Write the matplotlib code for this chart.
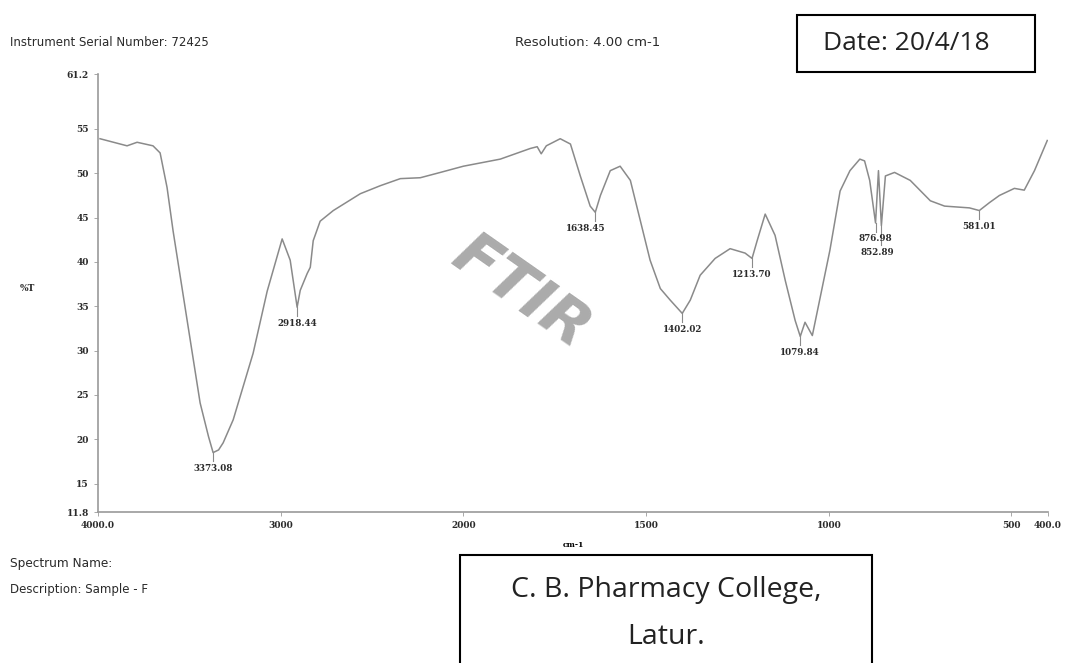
import numpy as np
import matplotlib.pyplot as plt
from matplotlib.patches import Rectangle

# spectrum (wavenumber cm-1, %T)
wavenumber = [3989, 3841, 3786, 3699, 3660, 3622, 3589, 3512, 3441, 3395,
              3370, 3340, 3315, 3260, 3151, 3074, 2992, 2948, 2910, 2893,
              2855, 2838, 2822, 2784, 2712, 2564, 2455, 2345, 2236, 2126,
              2000, 1899, 1817, 1798, 1787, 1773, 1735, 1707, 1680, 1653,
              1639, 1625, 1598, 1571, 1543, 1516, 1489, 1461, 1434, 1401,
              1379, 1352, 1311, 1270, 1229, 1210, 1196, 1174, 1147, 1119,
              1092, 1078, 1065, 1045, 1025, 997, 969, 942, 915, 902,
              888, 872, 864, 856, 845, 820, 777, 722, 683, 615,
              588, 560, 533, 492, 465, 437, 402]
transmittance = [53.9, 53.1, 53.5, 53.1, 52.3, 48.4, 43.5, 33.4, 24.1, 20.3,
                 18.5, 18.8, 19.6, 22.2, 29.7, 36.7, 42.6, 40.2, 34.9, 36.8,
                 38.7, 39.4, 42.4, 44.6, 45.8, 47.7, 48.6, 49.4, 49.5, 50.1,
                 50.8, 51.6, 52.8, 53.0, 52.2, 53.1, 53.9, 53.3, 49.7, 46.3,
                 45.6, 47.5, 50.3, 50.8, 49.2, 44.7, 40.2, 37.0, 35.7, 34.2,
                 35.7, 38.5, 40.4, 41.5, 41.0, 40.4, 42.4, 45.4, 43.0, 37.9,
                 33.4, 31.6, 33.2, 31.7, 35.7, 41.3, 48.0, 50.3, 51.6, 51.4,
                 49.2, 44.4, 50.3, 44.1, 49.7, 50.1, 49.2, 46.9, 46.3, 46.1,
                 45.8, 46.7, 47.5, 48.3, 48.1, 50.3, 53.7]

peak_wn = [3370, 2910, 1639, 1401, 1210, 1078, 872, 856, 588]
peak_labels = ["3373.08", "2918.44", "1638.45", "1402.02", "1213.70",
               "1079.84", "876.98", "852.89", "581.01"]
peak_dx = [0, 0, -25, 0, 0, 0, 0, -12, 0]
peak_extra = [0, 0, 0, 0, 0, 0, 0, 1.2, 0]

y_ticks = [11.8, 15, 20, 25, 30, 35, 40, 45, 50, 55, 61.2]
y_ticklabels = ["11.8", "15", "20", "25", "30", "35", "40", "45", "50", "55", "61.2"]
x_ticks = [4000, 3000, 2000, 1500, 1000, 500, 400]
x_ticklabels = ["4000.0", "3000", "2000", "1500", "1000", "500", "400.0"]


# instrument axis: scale doubles below 2000 cm-1
def fwd(x):
    x = np.asarray(x, dtype=float)
    return np.where(x >= 2000, x, 2 * x - 2000)


def inv(x):
    x = np.asarray(x, dtype=float)
    return np.where(x >= 2000, x, (x + 2000) / 2)


fig = plt.figure(figsize=(10.65, 6.63), dpi=100)
ax = fig.add_axes([98 / 1065, 151 / 663, 950 / 1065, 438 / 663])
ax.set_xscale('function', functions=(fwd, inv))
ax.set_xlim(4000, 400)
ax.set_ylim(11.8, 61.2)

gray = '#8a8a8a'
dark = '#2a2a2a'
ax.plot(wavenumber, transmittance, color=gray, lw=1.1)

wn_inc = np.array(wavenumber[::-1])
t_inc = np.array(transmittance[::-1])
for w, lab, dx, ex in zip(peak_wn, peak_labels, peak_dx, peak_extra):
    t = np.interp(w, wn_inc, t_inc)
    ax.plot([w, w], [t, t - 1.0 - ex], color=gray, lw=0.8)
    ax.text(w - dx, t - 1.3 - ex, lab, fontsize=6.3, ha='center', va='top',
            color=dark, family='DejaVu Serif', fontweight='bold')

for s in ['top', 'right']:
    ax.spines[s].set_visible(False)
for s in ['left', 'bottom']:
    ax.spines[s].set_color('#9a9a9a')
    ax.spines[s].set_linewidth(1.2)

ax.set_yticks(y_ticks)
ax.set_yticklabels(y_ticklabels, fontsize=6.5, family='DejaVu Serif', color=dark,
                   fontweight='bold')
ax.set_xticks(x_ticks)
ax.set_xticklabels(x_ticklabels, fontsize=6.5, family='DejaVu Serif', color=dark,
                   fontweight='bold')
ax.xaxis.set_minor_locator(plt.NullLocator())
ax.tick_params(length=3, width=0.6, color='#9a9a9a')

ax.set_xlabel("cm-1", fontsize=5.5, family='DejaVu Serif', labelpad=8, fontweight='bold')
ax.set_ylabel("%T", fontsize=6.5, family='DejaVu Serif', rotation=0, labelpad=28,
              fontweight='bold', color=dark)

ax.text(0.445, 0.5, "FTIR", transform=ax.transAxes, fontsize=44, rotation=-35,
        color='#ababab', fontweight='bold', fontstyle='italic', ha='center', va='center')

fig.text(10 / 1065, 1 - 42 / 663, "Instrument Serial Number: 72425", fontsize=8.5,
         va='center', color=dark)
fig.text(515 / 1065, 1 - 42 / 663, "Resolution: 4.00 cm-1", fontsize=9.5,
         va='center', color=dark)
fig.text(10 / 1065, 1 - 563 / 663, "Spectrum Name:", fontsize=8.7, va='center', color=dark)
fig.text(10 / 1065, 1 - 590 / 663, "Description: Sample - F", fontsize=8.5, va='center',
         color=dark)

fig.patches.append(Rectangle((797 / 1065, 1 - 72 / 663), 238 / 1065, 57 / 663,
                             transform=fig.transFigure, fill=False, lw=1.5, ec='black'))
fig.text(906 / 1065, 1 - 43 / 663, "Date: 20/4/18", fontsize=19, ha='center', va='center',
         family='Open Sans', color='#222222')

fig.patches.append(Rectangle((460 / 1065, -0.02), 412 / 1065, 108 / 663 + 0.02,
                             transform=fig.transFigure, fill=False, lw=1.5, ec='black'))
fig.text(666 / 1065, 1 - 590 / 663, "C. B. Pharmacy College,", fontsize=20.5, ha='center',
         va='center', family='Open Sans', color='#222222')
fig.text(666 / 1065, 1 - 637 / 663, "Latur.", fontsize=20.5, ha='center',
         va='center', family='Open Sans', color='#222222')

fig.savefig("out.png", dpi=100)
